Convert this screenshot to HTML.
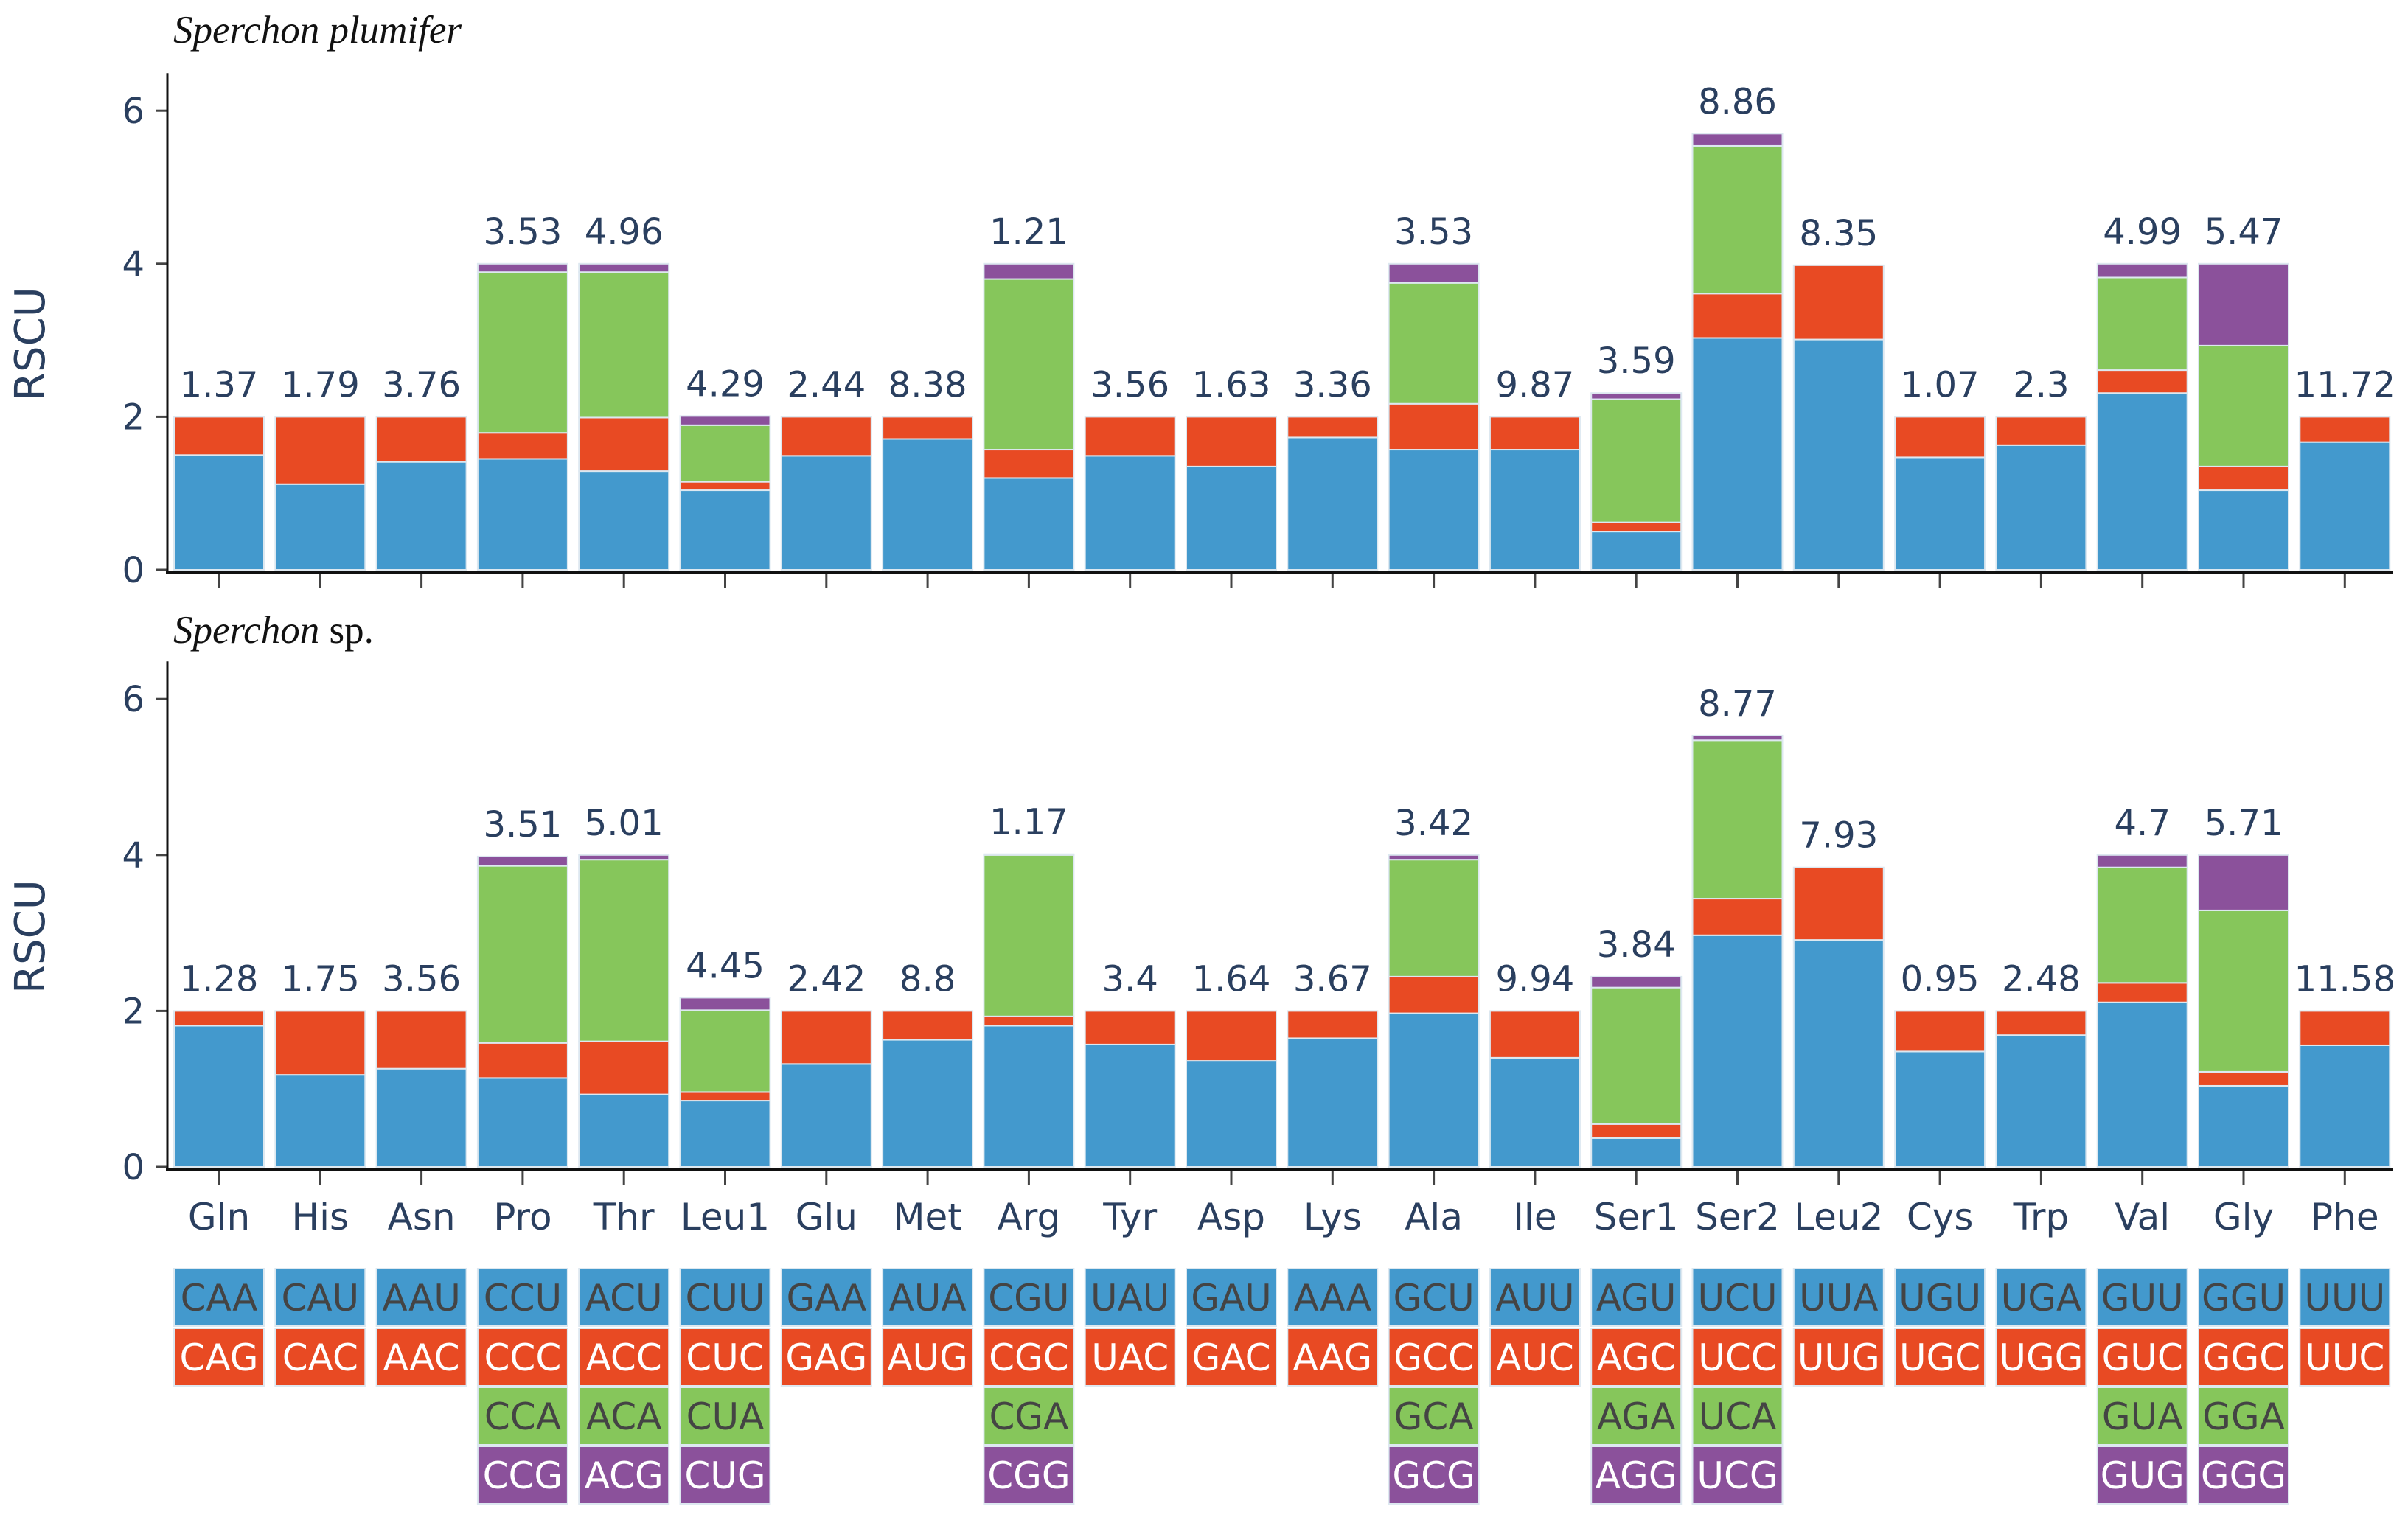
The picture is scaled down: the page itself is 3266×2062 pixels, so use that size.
<!DOCTYPE html>
<html><head><meta charset="utf-8"><style>
html,body{margin:0;padding:0;background:#fff;}
svg{display:block;}
</style></head><body>
<svg id="chart" width="3266" height="2062" viewBox="0 0 3266 2062" xmlns="http://www.w3.org/2000/svg"></svg>
<script>
const categories = ["Gln","His","Asn","Pro","Thr","Leu1","Glu","Met","Arg","Tyr","Asp","Lys","Ala","Ile","Ser1","Ser2","Leu2","Cys","Trp","Val","Gly","Phe"];
// top panel (Sperchon plumifer)
const topBlue   = [1.50,1.12,1.41,1.45,1.29,1.04,1.49,1.71,1.20,1.49,1.35,1.73,1.57,1.57,0.50,3.03,3.01,1.47,1.63,2.31,1.04,1.67];
const topRed    = [0.50,0.88,0.59,0.34,0.70,0.11,0.51,0.29,0.37,0.51,0.65,0.27,0.60,0.43,0.12,0.58,0.97,0.53,0.37,0.30,0.31,0.33];
const topGreen  = [0,0,0,2.10,1.90,0.74,0,0,2.23,0,0,0,1.58,0,1.61,1.93,0,0,0,1.21,1.58,0];
const topPurple = [0,0,0,0.11,0.11,0.12,0,0,0.20,0,0,0,0.25,0,0.08,0.16,0,0,0,0.18,1.07,0];
const topLabels = ["1.37","1.79","3.76","3.53","4.96","4.29","2.44","8.38","1.21","3.56","1.63","3.36","3.53","9.87","3.59","8.86","8.35","1.07","2.3","4.99","5.47","11.72"];
// bottom panel (Sperchon sp.)
const botBlue   = [1.81,1.18,1.26,1.14,0.93,0.85,1.32,1.63,1.81,1.57,1.36,1.65,1.97,1.40,0.37,2.97,2.91,1.48,1.69,2.11,1.04,1.56];
const botRed    = [0.19,0.82,0.74,0.45,0.68,0.11,0.68,0.37,0.12,0.43,0.64,0.35,0.47,0.60,0.18,0.47,0.93,0.52,0.31,0.25,0.18,0.44];
const botGreen  = [0,0,0,2.27,2.33,1.05,0,0,2.07,0,0,0,1.50,0,1.75,2.03,0,0,0,1.48,2.07,0];
const botPurple = [0,0,0,0.12,0.06,0.16,0,0,0.01,0,0,0,0.06,0,0.14,0.06,0,0,0,0.16,0.71,0];
const botLabels = ["1.28","1.75","3.56","3.51","5.01","4.45","2.42","8.8","1.17","3.4","1.64","3.67","3.42","9.94","3.84","8.77","7.93","0.95","2.48","4.7","5.71","11.58"];
const yTicks = [0,2,4,6];
const codonBlue   = ["CAA","CAU","AAU","CCU","ACU","CUU","GAA","AUA","CGU","UAU","GAU","AAA","GCU","AUU","AGU","UCU","UUA","UGU","UGA","GUU","GGU","UUU"];
const codonRed    = ["CAG","CAC","AAC","CCC","ACC","CUC","GAG","AUG","CGC","UAC","GAC","AAG","GCC","AUC","AGC","UCC","UUG","UGC","UGG","GUC","GGC","UUC"];
const codonGreen  = ["","","","CCA","ACA","CUA","","","CGA","","","","GCA","","AGA","UCA","","","","GUA","GGA",""];
const codonPurple = ["","","","CCG","ACG","CUG","","","CGG","","","","GCG","","AGG","UCG","","","","GUG","GGG",""];

const NS = "http://www.w3.org/2000/svg";
const svg = document.getElementById("chart");
const COL = {blue:"#4399cd", red:"#e84a23", green:"#86c65b", purple:"#8b519b"};
const FONT = '"DejaVu Sans","Liberation Sans",sans-serif';
const TXT = "#2a3f5f";
function mk(tag, attrs, parent){const e=document.createElementNS(NS,tag);for(const k in attrs)e.setAttribute(k,attrs[k]);(parent||svg).appendChild(e);return e;}

const x0 = 236, pitch = 137.3, barW = 122;
function xLeft(i){return x0 + i*pitch;}
function xCenter(i){return xLeft(i)+barW/2;}

function panel(name, yZero, unit, series, labels, showX){
  const g = mk("g",{});
  
  
  const y = v => yZero - v*unit;
  const cols=[COL.blue,COL.red,COL.green,COL.purple];
  const sn=["blue","red","green","purple"];
  categories.forEach((c,i)=>{
    let acc=0;
    series.forEach((s,k)=>{
      const v=s[i]; if(v<=0) return;
      const r=mk("rect",{x:xLeft(i),y:y(acc+v),width:barW,height:v*unit,fill:cols[k],stroke:"#dde8f0","stroke-width":2},g);
      
      
      acc+=v;
    });
    const t=mk("text",{x:xCenter(i),y:y(acc)-27,"text-anchor":"middle","font-family":FONT,"font-size":48,fill:TXT},g);
    t.textContent=labels[i];
    
    
    const tk=mk("line",{x1:xCenter(i),x2:xCenter(i),y1:yZero+4,y2:yZero+24,stroke:"#444","stroke-width":3},g);
    
    
    if(showX){
      const xl=mk("text",{x:xCenter(i),y:yZero+85,"text-anchor":"middle","font-family":FONT,"font-size":50,fill:TXT},g);
      xl.textContent=c;
      
      
    }
  });
  yTicks.forEach(v=>{
    const l=mk("line",{x1:211,x2:226,y1:y(v),y2:y(v),stroke:"#444","stroke-width":3},g);
    
    
    const t=mk("text",{x:196,y:y(v)+17,"text-anchor":"end","font-family":FONT,"font-size":48,fill:TXT},g);
    t.textContent=v;
    
    
  });
  const ya=mk("line",{x1:227,x2:227,y1:y(6)-51,y2:yZero+4,stroke:"#111","stroke-width":3},g);
  
  
  const xa=mk("line",{x1:225,x2:3245,y1:yZero+3,y2:yZero+3,stroke:"#111","stroke-width":4},g);
  
  
  const yt=mk("text",{x:0,y:0,transform:`translate(60,${y(3)+5}) rotate(-90)`,"text-anchor":"middle","font-family":FONT,"font-size":56,fill:TXT},g);
  yt.textContent="RSCU";
  
  
}

panel("top-panel", 773, 103.8, [topBlue,topRed,topGreen,topPurple], topLabels, false);
panel("bottom-panel", 1583, 105.8, [botBlue,botRed,botGreen,botPurple], botLabels, true);

// titles
const t1=mk("text",{x:235,y:58,"font-family":'"Liberation Serif",serif',"font-size":53,"font-style":"italic",fill:"#111"});
t1.textContent="Sperchon plumifer";


const t2=mk("text",{x:235,y:872,"font-family":'"Liberation Serif",serif',"font-size":53,fill:"#111"});


const ts=document.createElementNS(NS,"tspan");ts.setAttribute("font-style","italic");ts.textContent="Sperchon";t2.appendChild(ts);
t2.appendChild(document.createTextNode(" sp."));

// codon legend grid
const rows=[[codonBlue,COL.blue,"#444"],[codonRed,COL.red,"#fff"],[codonGreen,COL.green,"#444"],[codonPurple,COL.purple,"#fff"]];
const rowY=[1721,1802,1882,1962], boxH=78;
rows.forEach((row,r)=>{
  row[0].forEach((cod,i)=>{
    if(!cod) return;
    const b=mk("rect",{x:xLeft(i),y:rowY[r],width:barW,height:boxH,fill:row[1],stroke:"#dde8f0","stroke-width":2});
    
    
    const t=mk("text",{x:xCenter(i),y:rowY[r]+boxH/2+18,"text-anchor":"middle","font-family":FONT,"font-size":50,fill:row[2]});
    t.textContent=cod;
    
    
  });
});
</script>
</body></html>
